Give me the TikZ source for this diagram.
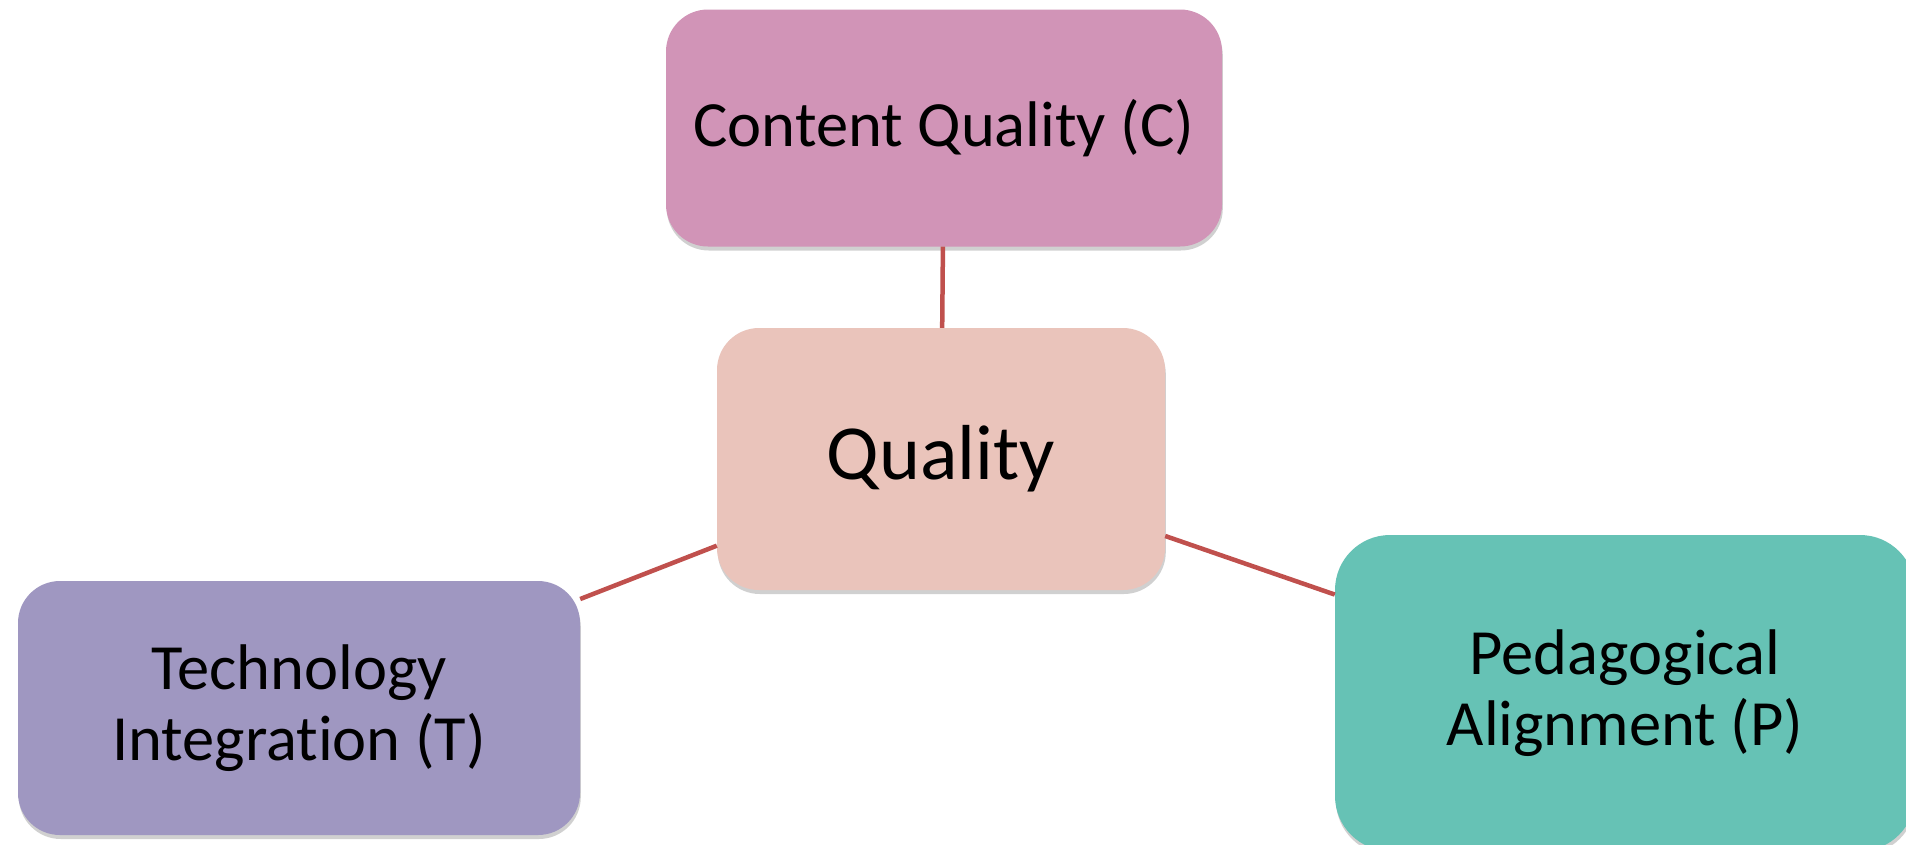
\documentclass[tikz,border=0pt]{standalone}
\usepackage{fontspec}
\setmainfont[Ligatures=NoCommon]{Carlito}
\usetikzlibrary{shadows}
\definecolor{cpink}{HTML}{D194B7}
\definecolor{qpink}{HTML}{EAC4BB}
\definecolor{tpurple}{HTML}{9F97C1}
\definecolor{pteal}{HTML}{66C2B5}
\definecolor{linkred}{HTML}{C0504D}
\tikzset{
  boxnode/.style={rectangle, rounded corners=42pt, inner sep=0pt, align=center,
    font=\fontsize{64.5}{71}\selectfont,
    drop shadow={shadow xshift=0.8pt, shadow yshift=-4pt, opacity=0.3, fill=black!60}},
  link/.style={draw=linkred, line width=4.5pt}
}
\begin{document}
\begin{tikzpicture}[x=1pt,y=-1pt]
\useasboundingbox (0,0) rectangle (1906,844);
\clip (0,0) rectangle (1906,844);
\fill[white] (0,0) rectangle (1906,844);
\node[boxnode, fill=cpink, minimum width=556pt, minimum height=237pt] (C) at (944,128) {Content Quality (C)};
\node[boxnode, fill=qpink, minimum width=448pt, minimum height=262pt, font=\fontsize{78}{86}\selectfont] (Q) at (941,459) {Quality};
\node[boxnode, fill=tpurple, minimum width=562pt, minimum height=254pt] (T) at (299,708) {Technology\\Integration (T)};
\node[boxnode, fill=pteal, minimum width=580pt, minimum height=316pt, rounded corners=55pt] (P) at (1625,693) {Pedagogical\\Alignment (P)};
\path[link] (C) -- (Q);
\path[link] (Q) -- (T);
\path[link] (Q) -- (P);
\end{tikzpicture}
\end{document}
